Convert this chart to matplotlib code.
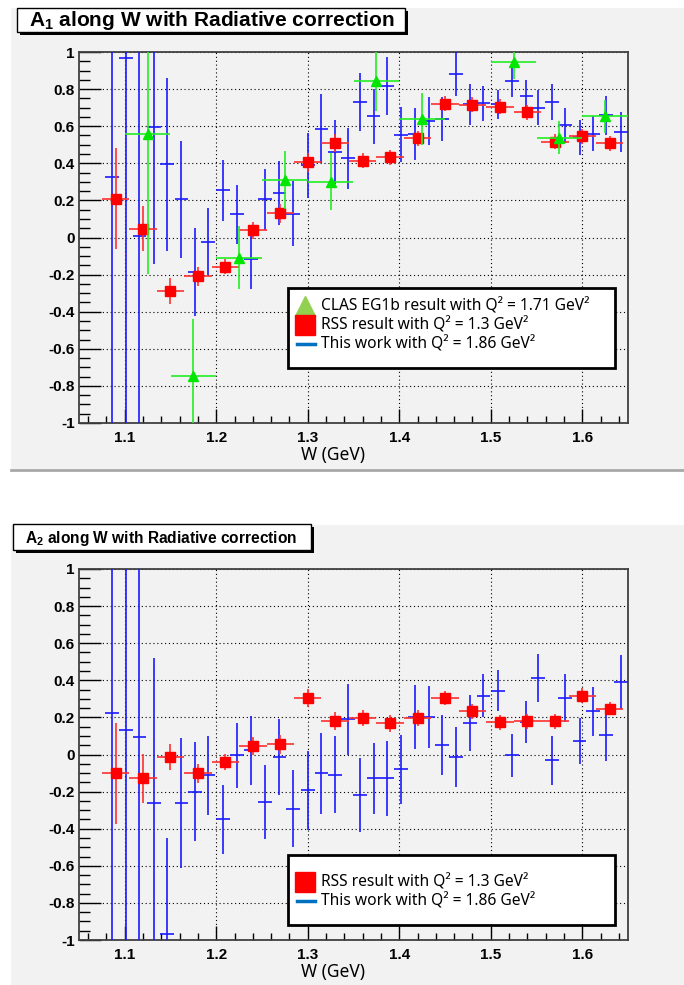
import matplotlib
matplotlib.use('Agg')
import matplotlib.pyplot as plt
from matplotlib.patches import Rectangle
from matplotlib.lines import Line2D
from matplotlib.ticker import FixedLocator, MultipleLocator

plt.rcParams['mathtext.fontset'] = 'custom'
plt.rcParams['mathtext.rm'] = 'Liberation Sans'
plt.rcParams['mathtext.bf'] = 'Liberation Sans:bold'

# ---- data ----
W_THIS = [1.086, 1.101, 1.116, 1.132, 1.146, 1.162, 1.177, 1.191, 1.207, 1.223,
          1.238, 1.253, 1.269, 1.284, 1.300, 1.315, 1.330, 1.344, 1.357, 1.372,
          1.387, 1.402, 1.417, 1.432, 1.447, 1.462, 1.477, 1.492, 1.508, 1.523,
          1.539, 1.552, 1.567, 1.581, 1.597, 1.612, 1.626, 1.642]
A1_THIS = [0.326, 0.968, 0.009, 0.595, 0.394, 0.206, -0.185, -0.023, 0.254, 0.124,
           -0.116, 0.206, 0.238, 0.129, 0.389, 0.586, 0.462, 0.427, 0.730, 0.653,
           0.818, 0.555, 0.560, 0.628, 0.640, 0.884, 0.717, 0.724, 0.717, 0.845,
           0.765, 0.699, 0.730, 0.605, 0.540, 0.560, 0.660, 0.569]
A1_THIS_ERR = [1.5, 2.0, 1.5, 0.74, 0.466, 0.316, 0.238, 0.18, 0.166, 0.157,
               0.16, 0.163, 0.172, 0.175, 0.175, 0.187, 0.172, 0.164, 0.156, 0.15,
               0.155, 0.15, 0.14, 0.13, 0.12, 0.12, 0.11, 0.095, 0.08, 0.09,
               0.085, 0.095, 0.096, 0.094, 0.095, 0.095, 0.105, 0.11]
A2_THIS = [0.223, 0.131, 0.095, -0.26, -0.97, -0.26, -0.201, -0.113, -0.35, -0.005,
           0.022, -0.257, -0.013, -0.293, -0.192, -0.102, -0.108, 0.189, -0.218, -0.129,
           -0.129, -0.08, 0.202, 0.200, 0.050, -0.013, 0.170, 0.318, 0.343, -0.005,
           0.173, 0.413, -0.032, 0.305, 0.073, 0.232, 0.104, 0.389]
A2_THIS_ERR = [1.5, 1.5, 1.5, 0.78, 0.52, 0.35, 0.268, 0.214, 0.185, 0.175,
               0.185, 0.2, 0.205, 0.207, 0.213, 0.218, 0.206, 0.19, 0.2, 0.19,
               0.2, 0.185, 0.17, 0.167, 0.162, 0.16, 0.15, 0.117, 0.11, 0.114,
               0.113, 0.131, 0.134, 0.13, 0.122, 0.134, 0.14, 0.145]
THIS_HALF_BIN = 0.0075

W_RSS = [1.09, 1.12, 1.15, 1.18, 1.21, 1.24, 1.27, 1.30, 1.33, 1.36,
         1.39, 1.42, 1.45, 1.48, 1.51, 1.54, 1.57, 1.60, 1.63]
A1_RSS = [0.21, 0.048, -0.29, -0.21, -0.158, 0.038, 0.13, 0.405, 0.51, 0.413,
          0.432, 0.534, 0.722, 0.715, 0.706, 0.676, 0.516, 0.545, 0.507]
A1_RSS_ERR = [0.27, 0.12, 0.07, 0.05, 0.04, 0.045, 0.05, 0.05, 0.05, 0.04,
              0.04, 0.04, 0.04, 0.04, 0.04, 0.04, 0.04, 0.04, 0.04]
A2_RSS = [-0.102, -0.129, -0.013, -0.102, -0.041, 0.045, 0.054, 0.305, 0.18, 0.196,
          0.168, 0.196, 0.305, 0.232, 0.173, 0.179, 0.179, 0.318, 0.246]
A2_RSS_ERR = [0.27, 0.13, 0.07, 0.05, 0.045, 0.048, 0.05, 0.05, 0.05, 0.045,
              0.045, 0.045, 0.04, 0.04, 0.04, 0.04, 0.04, 0.04, 0.035]
RSS_HALF_BIN = 0.015

W_CLAS = [1.125, 1.175, 1.225, 1.275, 1.325, 1.375, 1.425, 1.525, 1.575, 1.625]
A1_CLAS = [0.559, -0.744, -0.108, 0.308, 0.301, 0.842, 0.64, 0.948, 0.539, 0.653]
A1_CLAS_ERR = [0.755, 0.305, 0.17, 0.157, 0.155, 0.16, 0.14, 0.095, 0.09, 0.09]
CLAS_HALF_BIN = 0.025

X_TICKS = [1.1, 1.2, 1.3, 1.4, 1.5, 1.6]
X_TICK_LABELS = ['1.1', '1.2', '1.3', '1.4', '1.5', '1.6']
Y_TICKS = [1.0, 0.8, 0.6, 0.4, 0.2, 0.0, -0.2, -0.4, -0.6, -0.8, -1.0]
Y_TICK_LABELS = ['1', '0.8', '0.6', '0.4', '0.2', '0', '-0.2', '-0.4', '-0.6', '-0.8', '-1']

LABEL_CLAS = 'CLAS EG1b result with Q² = 1.71 GeV²'
LABEL_RSS = 'RSS result with Q² = 1.3 GeV²'
LABEL_THIS = 'This work with Q² = 1.86 GeV²'

# ---- layout helpers (pixel coords, origin top-left) ----
W_PX, H_PX = 684, 985
BG = '#f2f2f2'


def fx(x):
    return x / W_PX


def fy(y):
    return 1 - y / H_PX


def add_canvas(fig, y0, y1, bottom_line):
    fig.add_artist(Rectangle((fx(11), fy(y1)), 1 - fx(11), (y1 - y0) / H_PX,
                             transform=fig.transFigure, facecolor=BG,
                             edgecolor='none', zorder=-10))
    if bottom_line:
        fig.add_artist(Line2D([fx(11), 1], [fy(y1), fy(y1)], transform=fig.transFigure,
                              color='#a8a8a8', lw=2))


def add_title(fig, text, x0, y0, x1, y1, size):
    w = (x1 - x0) / W_PX
    h = (y1 - y0) / H_PX
    fig.add_artist(Rectangle((fx(x0 + 3), fy(y1 + 3)), w, h, transform=fig.transFigure,
                             facecolor='black', edgecolor='none'))
    fig.add_artist(Rectangle((fx(x0), fy(y1)), w, h, transform=fig.transFigure,
                             facecolor='white', edgecolor='black', lw=1))
    fig.text(fx(x0 + 12), fy((y0 + y1) / 2 + 1), text, fontsize=size, fontweight='bold',
             family='Liberation Sans', ha='left', va='center')


def add_legend(fig, x0, y0, x1, y1, entries):
    fig.add_artist(Rectangle((fx(x0), fy(y1)), (x1 - x0) / W_PX, (y1 - y0) / H_PX,
                             transform=fig.transFigure, facecolor='white',
                             edgecolor='black', lw=2, zorder=20))
    for kind, label, yc in entries:
        if kind == 'tri':
            fig.add_artist(Line2D([fx(305)], [fy(yc)], transform=fig.transFigure, marker='^',
                                  ms=14, color='#92d050', mec='#92d050', zorder=21))
        elif kind == 'sq':
            fig.add_artist(Line2D([fx(305)], [fy(yc)], transform=fig.transFigure, marker='s',
                                  ms=14, color='#ff0000', mec='#ff0000', zorder=21))
        else:
            fig.add_artist(Line2D([fx(297), fx(315)], [fy(yc), fy(yc)], transform=fig.transFigure,
                                  color='#0070c0', lw=2.5, zorder=21))
        fig.text(fx(321), fy(yc), label, fontsize=11.2, family=['Noto Sans', 'DejaVu Sans'],
                 ha='left', va='center', zorder=22)


def setup_axes(ax):
    ax.set_facecolor(BG)
    ax.set_xlim(1.05, 1.65)
    ax.set_ylim(-1, 1)
    ax.xaxis.set_major_locator(FixedLocator(X_TICKS))
    ax.set_xticklabels(X_TICK_LABELS)
    ax.xaxis.set_minor_locator(MultipleLocator(0.02))
    ax.yaxis.set_major_locator(FixedLocator(Y_TICKS))
    ax.set_yticklabels(Y_TICK_LABELS)
    ax.yaxis.set_minor_locator(MultipleLocator(0.05))
    ax.tick_params(which='both', direction='in', top=False, right=False,
                   color='black', width=1)
    ax.tick_params(axis='x', which='major', length=10, pad=6)
    ax.tick_params(axis='x', which='minor', length=5)
    ax.tick_params(axis='y', which='major', length=16, pad=3)
    ax.tick_params(axis='y', which='minor', length=8)
    for lab in ax.get_xticklabels() + ax.get_yticklabels():
        lab.set_fontweight('bold')
        lab.set_family('Liberation Sans')
        lab.set_fontsize(11)
    for sp in ax.spines.values():
        sp.set_color('#404040')
        sp.set_linewidth(1.3)
    ax.set_axisbelow(True)
    ax.grid(which='major', color='black', ls=(0, (1, 2.5)), lw=0.8)
    ax.set_xlabel('W (GeV)', fontsize=12.5, family=['Noto Sans', 'DejaVu Sans'], va='center')
    ax.xaxis.set_label_coords((333 - 79) / 549, -32 / 371)


fig = plt.figure(figsize=(6.84, 9.85), dpi=100)
fig.patch.set_facecolor('white')

add_canvas(fig, 8, 470, True)
add_canvas(fig, 525, 985, False)

ax1 = fig.add_axes([fx(79), fy(423), (628 - 79) / W_PX, (423 - 52) / H_PX])
ax2 = fig.add_axes([fx(79), fy(940), (628 - 79) / W_PX, (940 - 569) / H_PX])

# A1 panel
ax1.errorbar(W_THIS, A1_THIS, xerr=THIS_HALF_BIN, yerr=A1_THIS_ERR, fmt='none',
             ecolor='#1a1aff', elinewidth=1.2, capsize=0, zorder=3)
ax1.errorbar(W_RSS, A1_RSS, xerr=RSS_HALF_BIN, yerr=A1_RSS_ERR, fmt='s', color='#ff0000',
             ms=7.5, ecolor='#ff3030', elinewidth=1.2, capsize=0, zorder=4)
ax1.errorbar(W_CLAS, A1_CLAS, xerr=CLAS_HALF_BIN, yerr=A1_CLAS_ERR, fmt='^', color='#00e600',
             ms=6.5, ecolor='#22ee22', elinewidth=1.2, capsize=0, zorder=5)
setup_axes(ax1)

# A2 panel
ax2.errorbar(W_THIS, A2_THIS, xerr=THIS_HALF_BIN, yerr=A2_THIS_ERR, fmt='none',
             ecolor='#1a1aff', elinewidth=1.2, capsize=0, zorder=3)
ax2.errorbar(W_RSS, A2_RSS, xerr=RSS_HALF_BIN, yerr=A2_RSS_ERR, fmt='s', color='#ff0000',
             ms=7.5, ecolor='#ff3030', elinewidth=1.2, capsize=0, zorder=4)
setup_axes(ax2)

add_title(fig, r'A$_\mathbf{1}$ along W with Radiative correction', 17, 8, 405, 32, 15)
add_title(fig, r'A$_\mathbf{2}$ along W with Radiative correction', 13, 524, 311, 550, 11.2)

add_legend(fig, 288, 288, 615, 368,
           [('tri', LABEL_CLAS, 306), ('sq', LABEL_RSS, 325), ('line', LABEL_THIS, 344)])
add_legend(fig, 288, 855, 615, 925,
           [('sq', LABEL_RSS, 882), ('line', LABEL_THIS, 901)])

fig.savefig('out.png', dpi=100, facecolor=fig.get_facecolor())
